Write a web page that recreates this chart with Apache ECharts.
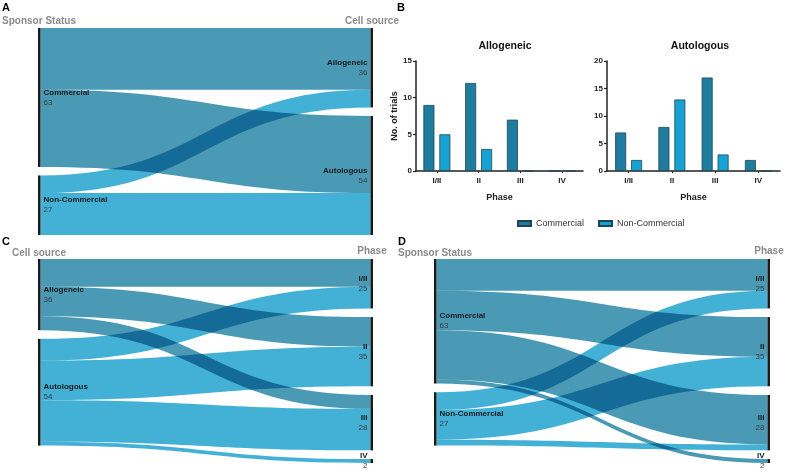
<!DOCTYPE html>
<html>
<head>
<meta charset="utf-8">
<script src="https://cdn.jsdelivr.net/npm/echarts@6/dist/echarts.min.js"></script>
<style>
html,body{margin:0;padding:0;background:#fff;}
#main{width:785px;height:473px;}
</style>
</head>
<body>
<div id="main"></div>
<script>
// ---------- data ----------
const phases = ['I/II', 'II', 'III', 'IV'];
const allogeneicCommercial = [9, 12, 7, 0];
const allogeneicNonCommercial = [5, 3, 0, 0];
const autologousCommercial = [7, 8, 17, 2];
const autologousNonCommercial = [2, 13, 3, 0];

const sponsorNames = ['Commercial', 'Non-Commercial'];
const sponsorTotals = [63, 27];
const sourceNames = ['Allogeneic', 'Autologous'];
const sourceTotals = [36, 54];
const phaseTotals = [25, 35, 28, 2];

// A: sponsor -> cell source (Allogeneic, Autologous)
const linkA_commercial = [28, 35];
const linkA_nonCommercial = [8, 19];
// C: cell source -> phase
const linkC_allogeneic = [14, 15, 7, 0];
const linkC_autologous = [11, 20, 21, 2];
// D: sponsor -> phase
const linkD_commercial = [16, 20, 25, 2];
const linkD_nonCommercial = [9, 15, 3, 0];

// ---------- styles ----------
const FONT = 'Liberation Sans, Arial, sans-serif';
const DARK_LINK = '#4a9ab5';
const LIGHT_LINK = '#43b1d6';
const BAR_DARK = '#1e7c9e';
const BAR_LIGHT = '#18a2d4';

function nodeList(names, totals, side) {
  return names.map((n, i) => ({
    name: n,
    value: totals[i],
    label: side === 'left'
      ? { position: 'right', align: 'left' }
      : { position: 'left', align: 'right' }
  }));
}
function linkList(src, targets, vals, color) {
  const out = [];
  vals.forEach((v, i) => {
    if (v > 0) out.push({ source: src, target: targets[i], value: v, lineStyle: { color: color, opacity: 1 } });
  });
  return out;
}
const sankeyLabel = {
  show: true,
  distance: 3,
  formatter: p => '{n|' + p.name + '}\n{v|' + p.value + '}',
  rich: {
    n: { fontFamily: FONT, fontWeight: 'bold', fontSize: 8, color: '#1a1a1a', lineHeight: 10 },
    v: { fontFamily: FONT, fontSize: 8, color: '#3a3a3a', lineHeight: 10 }
  }
};
function sankey(box, nodes, links, gap) {
  return Object.assign({
    type: 'sankey',
    nodeWidth: 2.5,
    nodeGap: gap,
    draggable: false,
    silent: true,
    layoutIterations: 0,
    nodeAlign: 'justify',
    emphasis: { disabled: true },
    itemStyle: { color: '#1a1a1a', borderWidth: 0 },
    lineStyle: { curveness: 0.5, opacity: 1 },
    label: sankeyLabel,
    data: nodes,
    links: links
  }, box);
}

const seriesA = sankey({ left: 38, top: 28, width: 335, height: 207 },
  nodeList(sponsorNames, sponsorTotals, 'left').concat(nodeList(sourceNames, sourceTotals, 'right')),
  linkList('Commercial', sourceNames, linkA_commercial, DARK_LINK)
    .concat(linkList('Non-Commercial', sourceNames, linkA_nonCommercial, LIGHT_LINK)), 8.5);

const seriesC = sankey({ left: 38, top: 259, width: 335, height: 204 },
  nodeList(sourceNames, sourceTotals, 'left').concat(nodeList(phases, phaseTotals, 'right')),
  linkList('Allogeneic', phases, linkC_allogeneic, DARK_LINK)
    .concat(linkList('Autologous', phases, linkC_autologous, LIGHT_LINK)), 8.7);

const seriesD = sankey({ left: 434, top: 259, width: 336, height: 204 },
  nodeList(sponsorNames, sponsorTotals, 'left').concat(nodeList(phases, phaseTotals, 'right')),
  linkList('Commercial', phases, linkD_commercial, DARK_LINK)
    .concat(linkList('Non-Commercial', phases, linkD_nonCommercial, LIGHT_LINK)), 8.7);

const axisLabelStyle = { fontFamily: FONT, fontWeight: 'bold', fontSize: 8, color: '#222' };
const axisLineStyle = { show: true, lineStyle: { color: '#222', width: 1.5 } };
function xAxis(gi) {
  return {
    type: 'category', gridIndex: gi, data: phases,
    name: 'Phase', nameLocation: 'middle', nameGap: 22,
    nameTextStyle: { fontFamily: FONT, fontWeight: 'bold', fontSize: 9, color: '#222' },
    axisLine: axisLineStyle,
    axisTick: { show: true, alignWithLabel: true, length: 2, lineStyle: { color: '#222', width: 1 } },
    axisLabel: Object.assign({ margin: 6 }, axisLabelStyle)
  };
}
function yAxis(gi, max, name) {
  return {
    type: 'value', gridIndex: gi, min: 0, max: max, interval: 5,
    name: name, nameLocation: 'middle', nameGap: 17,
    nameTextStyle: { fontFamily: FONT, fontWeight: 'bold', fontSize: 9, color: '#222' },
    axisLine: axisLineStyle,
    axisTick: { show: true, length: 3, lineStyle: { color: '#222', width: 1.2 } },
    axisLabel: Object.assign({ margin: 4 }, axisLabelStyle),
    splitLine: { show: false }
  };
}
function bar(name, gi, data, color) {
  return {
    type: 'bar', name: name, xAxisIndex: gi, yAxisIndex: gi, data: data,
    barWidth: 11, barGap: '45%',
    itemStyle: { color: color, borderColor: '#1f4656', borderWidth: 0.8 },
    silent: true
  };
}

function txt(x, y, text, size, color, align, weight) {
  return {
    type: 'text', x: x, y: y, silent: true,
    style: { text: text, fontFamily: FONT, fontSize: size, fontWeight: weight || 'bold',
             fill: color, align: align || 'left', verticalAlign: 'middle' }
  };
}

const option = {
  animation: false,
  backgroundColor: '#fff',
  title: [
    { text: 'Allogeneic', left: 500, top: 36, textAlign: 'center',
      textStyle: { fontFamily: FONT, fontWeight: 'bold', fontSize: 10.5, color: '#111' } },
    { text: 'Autologous', left: 695, top: 36, textAlign: 'center',
      textStyle: { fontFamily: FONT, fontWeight: 'bold', fontSize: 10.5, color: '#111' } }
  ],
  legend: {
    data: ['Commercial', 'Non-Commercial'],
    left: 512, top: 214,
    icon: 'rect', itemWidth: 13, itemHeight: 5, itemGap: 14,
    textStyle: { fontFamily: FONT, fontSize: 9, color: '#333', padding: [0, 0, 0, 0] },
    selectedMode: false
  },
  grid: [
    { left: 416, top: 61, width: 167, height: 110 },
    { left: 607, top: 61, width: 173, height: 110 }
  ],
  xAxis: [xAxis(0), xAxis(1)],
  yAxis: [yAxis(0, 15, 'No. of trials'), yAxis(1, 20, '')],
  series: [
    seriesA, seriesC, seriesD,
    bar('Commercial', 0, allogeneicCommercial, BAR_DARK),
    bar('Non-Commercial', 0, allogeneicNonCommercial, BAR_LIGHT),
    bar('Commercial', 1, autologousCommercial, BAR_DARK),
    bar('Non-Commercial', 1, autologousNonCommercial, BAR_LIGHT)
  ],
  graphic: [
    txt(2, 8, 'A', 11, '#000'),
    txt(397, 8, 'B', 11, '#000'),
    txt(2, 242, 'C', 11, '#000'),
    txt(398, 242, 'D', 11, '#000'),
    txt(39, 21, 'Sponsor Status', 10, '#8a8a8a', 'center'),
    txt(372, 21, 'Cell source', 10, '#8a8a8a', 'center'),
    txt(39, 253, 'Cell source', 10, '#8a8a8a', 'center'),
    txt(372, 251, 'Phase', 10, '#8a8a8a', 'center'),
    txt(435, 253, 'Sponsor Status', 10, '#8a8a8a', 'center'),
    txt(769, 251, 'Phase', 10, '#8a8a8a', 'center')
  ]
};

const chart = echarts.init(document.getElementById('main'), null, { renderer: 'canvas' });
chart.setOption(option);

// overlapping ribbons darken each other (multiply blending)
function applyBlend() {
  const zr = chart.getZr();
  zr.storage.getDisplayList(true).forEach(el => {
    if (el.shape && el.shape.cpx1 !== undefined && el.shape.extent !== undefined) {
      el.style.blend = 'multiply';
      el.markRedraw();
    }
  });
  zr.refreshImmediately();
}
applyBlend();
chart.on('finished', applyBlend);
</script>
</body>
</html>
